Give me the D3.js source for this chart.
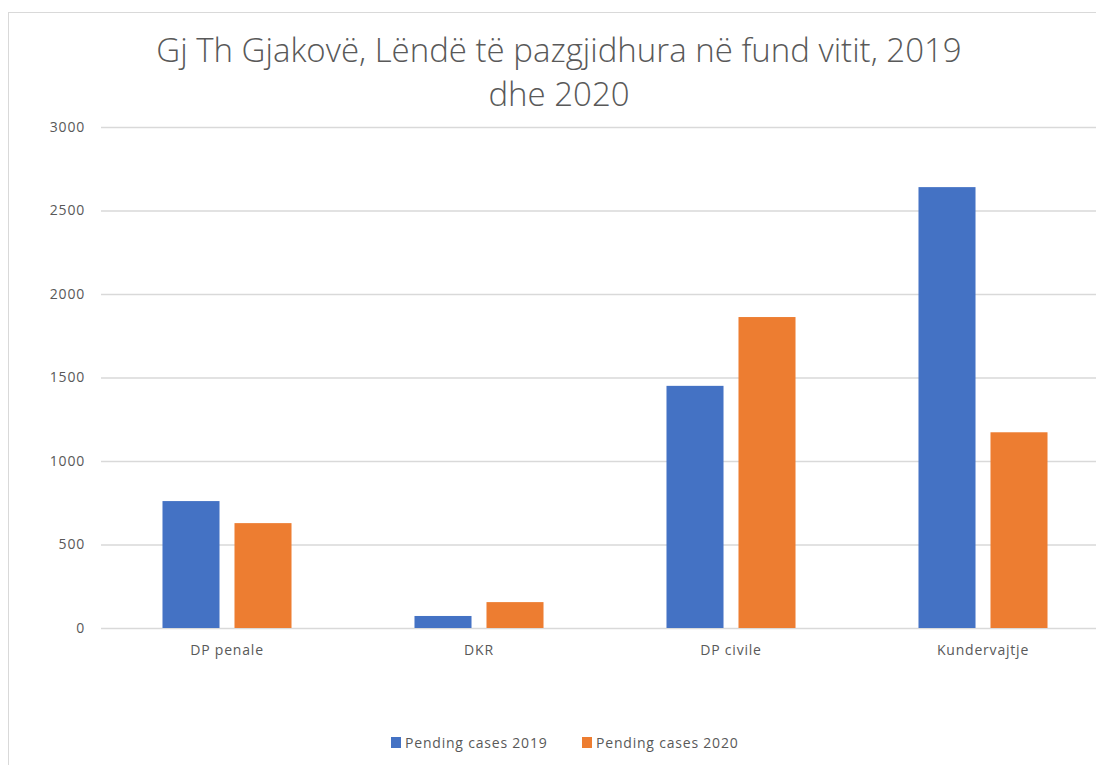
<!DOCTYPE html>
<html>
<head>
<meta charset="utf-8">
<script src="https://cdn.jsdelivr.net/npm/d3@7"></script>
<style>
  body { margin: 0; background: #fff; }
  text { font-family: 'Open Sans', 'Liberation Sans', sans-serif; fill: #595959; }
</style>
</head>
<body>
<script>
// chart data
var categories = ['DP penale', 'DKR', 'DP civile', 'Kundervajtje'];
var seriesNames = ['Pending cases 2019', 'Pending cases 2020'];
var values2019 = [760, 72, 1450, 2640];
var values2020 = [628, 155, 1862, 1172];
var yTicks = [0, 500, 1000, 1500, 2000, 2500, 3000];
var titleLines = ['Gj Th Gjakovë, Lëndë të pazgjidhura në fund vitit, 2019', 'dhe 2020'];

var colors = ['#4472c4', '#ed7d31'];

var width = 1096,
    height = 765,
    margin = { top: 127, right: -13, bottom: 137, left: 101 };

var svg = d3.select('body').append('svg')
    .attr('width', width)
    .attr('height', height);

// chart area border (cropped on the right)
svg.append('rect')
  .attr('x', 8.5).attr('y', 12.5)
  .attr('width', 1200).attr('height', 800)
  .attr('fill', '#fff')
  .attr('stroke', '#d9d9d9');

var innerW = width - margin.left - margin.right,
    innerH = height - margin.top - margin.bottom;

var rows = categories.map(function(c, i) {
  return { cat: c, vals: [values2019[i], values2020[i]] };
});

var x0 = d3.scaleBand().domain(categories).range([0, innerW])
    .paddingInner(0.488).paddingOuter(0.244);
var x1 = d3.scaleBand().domain([0, 1]).range([0, x0.bandwidth()])
    .paddingInner(0.208);
var y = d3.scaleLinear().domain([0, 3000]).range([innerH, 0]);

var g = svg.append('g')
    .attr('transform', 'translate(' + margin.left + ',' + margin.top + ')');

// gridlines + y labels
var yAxis = g.append('g')
  .call(d3.axisLeft(y).tickValues(yTicks).tickSize(-innerW).tickPadding(16).tickFormat(d3.format('d')));
yAxis.select('.domain').remove();
yAxis.selectAll('line').attr('stroke', '#d9d9d9').attr('stroke-width', 1.3);
yAxis.selectAll('text').style('font-size', '14px').style('letter-spacing', '0.8px').attr('fill', '#595959');

// bars
var groups = g.selectAll('.grp')
  .data(rows)
  .enter().append('g')
  .attr('class', 'grp')
  .attr('transform', function(d) { return 'translate(' + x0(d.cat) + ',0)'; });

groups.selectAll('rect')
  .data(function(d) { return d.vals.map(function(v, i) { return { v: v, i: i }; }); })
  .enter().append('rect')
  .attr('x', function(d) { return x1(d.i); })
  .attr('y', function(d) { return y(d.v); })
  .attr('width', x1.bandwidth())
  .attr('height', function(d) { return innerH - y(d.v); })
  .attr('fill', function(d) { return colors[d.i]; });

// x axis labels
var xAxis = g.append('g')
  .attr('transform', 'translate(0,' + innerH + ')')
  .call(d3.axisBottom(x0).tickSize(0).tickPadding(17));
xAxis.select('.domain').remove();
xAxis.selectAll('text').style('font-size', '14px').style('letter-spacing', '0.8px').attr('fill', '#595959');

// title
svg.selectAll('.title')
  .data(titleLines)
  .enter().append('text')
  .attr('class', 'title')
  .attr('x', 559)
  .attr('y', function(d, i) { return 62 + i * 44; })
  .attr('text-anchor', 'middle')
  .style('font-size', '33px')
  .style('font-weight', 300)
  .text(function(d) { return d; });

// legend
var legendX = [391, 582];
var legend = svg.selectAll('.leg')
  .data(seriesNames)
  .enter().append('g')
  .attr('class', 'leg')
  .attr('transform', function(d, i) { return 'translate(' + legendX[i] + ',737)'; });
legend.append('rect')
  .attr('width', 10).attr('height', 11)
  .attr('fill', function(d, i) { return colors[i]; });
legend.append('text')
  .attr('x', 14).attr('y', 11)
  .style('font-size', '14px')
  .style('letter-spacing', '0.8px')
  .text(function(d) { return d; });
</script>
</body>
</html>
